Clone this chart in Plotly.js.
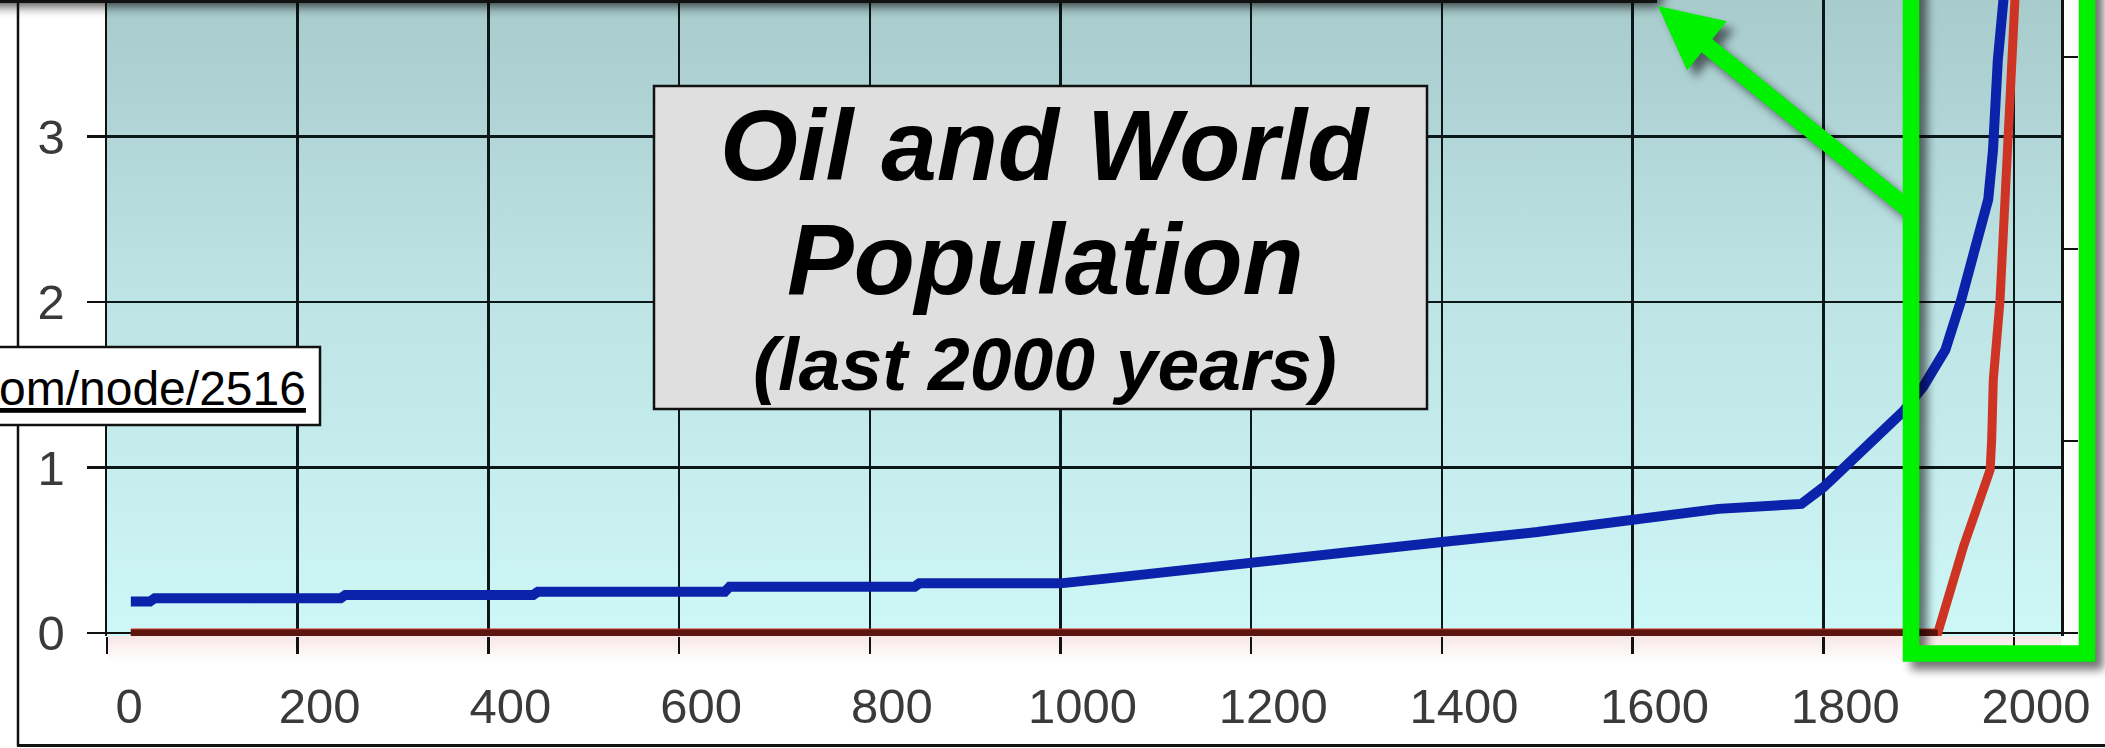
<!DOCTYPE html>
<html>
<head>
<meta charset="utf-8">
<script src="https://cdn.plot.ly/plotly-3.0.1.min.js"></script>
<style>
html,body{margin:0;padding:0;background:#ffffff;overflow:hidden}
#chart{width:2105px;height:748px}
</style>
</head>
<body>
<div id="chart"></div>
<script>
// ---------------- data ----------------
const xTickVals = [0, 200, 400, 600, 800, 1000, 1200, 1400, 1600, 1800, 2000];
const xTickText = ['0', '200', '400', '600', '800', '1000', '1200', '1400', '1600', '1800', '2000'];
const yTickVals = [0, 1, 2, 3];
const yTickText = ['0', '1', '2', '3'];
const oilAxisTicks = [0, 10, 20, 30];

// world population (billions)
const popYears = [25, 45, 50, 245, 250, 447, 452, 648, 653, 847, 852, 1000, 1050, 1125, 1200, 1275, 1350, 1400, 1500, 1600, 1690, 1777, 1800, 1822, 1884, 1905, 1928, 1944, 1964, 1973, 1978, 1980, 1983, 1989, 1995];
const popBillions = [0.19, 0.19, 0.21, 0.21, 0.23, 0.23, 0.25, 0.25, 0.28, 0.28, 0.30, 0.30, 0.33, 0.38, 0.43, 0.48, 0.53, 0.55, 0.61, 0.68, 0.75, 0.78, 0.88, 1.00, 1.34, 1.49, 1.71, 2.00, 2.42, 2.62, 2.92, 3.18, 3.46, 3.83, 4.20];

// oil (right-hand axis units)
const oilYears = [25, 1920, 1947, 1969, 1975, 1976.6, 1978.3, 1985.3, 1990.6, 1997.6, 2001, 2004];
const oilValues = [0, 0, 4.5, 7.6, 8.5, 10.1, 13.2, 17.3, 22.6, 27.8, 33.0, 36.0];

const titleLines = ['Oil and World', 'Population', '(last 2000 years)'];
const sourceText = 'om/node/2516';

// ---------------- geometry / style ----------------
const PAGE_W = 2105, PAGE_H = 748;
const L = 107, R = 2061, T = 0, B = 636;
const Y0_PX = 633;
const PX_PER_POP = 165.5;
const PX_PER_YEAR = 0.9535;
const PX_PER_OIL = 19.2;
const px2x = px => (px - L) / (R - L);
const px2y = py => (B - py) / (B - T);

const tip = [1658, 6], tail = [1912, 212];
const GREEN = '#00f200';
const tickFont = {family: 'Liberation Sans, Arial, sans-serif', size: 49, color: '#3a3a3a'};

// ---------------- decorative images (gradient background, shadows) ----------------
function svgURI(s) { return 'data:image/svg+xml;charset=utf-8,' + encodeURIComponent(s); }

const bgSVG =
  "<svg xmlns='http://www.w3.org/2000/svg' width='" + PAGE_W + "' height='" + PAGE_H + "' viewBox='0 0 " + PAGE_W + " " + PAGE_H + "' preserveAspectRatio='none'>" +
  "<defs><linearGradient id='g' x1='0' y1='0' x2='0' y2='1'>" +
  "<stop offset='0' stop-color='#a8cbcc'/><stop offset='0.45' stop-color='#bde3e4'/><stop offset='1' stop-color='#cef7f7'/></linearGradient>" +
  "<linearGradient id='p' x1='0' y1='0' x2='0' y2='1'><stop offset='0' stop-color='#f8e6e6'/><stop offset='1' stop-color='#ffffff'/></linearGradient></defs>" +
  "<rect x='0' y='0' width='" + PAGE_W + "' height='" + PAGE_H + "' fill='#ffffff'/>" +
  "<rect x='" + L + "' y='" + T + "' width='" + (R - L) + "' height='" + (B - T) + "' fill='url(#g)'/>" +
  "<rect x='" + L + "' y='" + B + "' width='" + (R - L) + "' height='26' fill='url(#p)'/>" +
  "</svg>";

function shadowSVG() {
  const dx = tail[0] - tip[0], dy = tail[1] - tip[1];
  const len = Math.hypot(dx, dy);
  const u = [dx / len, dy / len], n = [-u[1], u[0]];
  const headLen = 63, half = 31, o = 8;
  const back = [tip[0] + u[0] * headLen, tip[1] + u[1] * headLen];
  const w1 = [back[0] + n[0] * half + o, back[1] + n[1] * half + o];
  const w2 = [back[0] - n[0] * half + o, back[1] - n[1] * half + o];
  const t = [tip[0] + o, tip[1] + o];
  return "<svg xmlns='http://www.w3.org/2000/svg' width='" + PAGE_W + "' height='" + PAGE_H + "' viewBox='0 0 " + PAGE_W + " " + PAGE_H + "' preserveAspectRatio='none'>" +
    "<defs><filter id='s' x='-50%' y='-50%' width='200%' height='200%'><feGaussianBlur stdDeviation='5'/></filter>" +
    "<filter id='t' x='-20%' y='-300%' width='140%' height='700%'><feGaussianBlur stdDeviation='6'/></filter></defs>" +
    "<rect x='-40' y='-40' width='1702' height='46' fill='#000' opacity='0.75' filter='url(#t)'/>" +
    "<rect x='0' y='0' width='1657' height='3' fill='#111'/>" +
    "<g opacity='0.55' filter='url(#s)'>" +
    "<rect x='1919' y='-40' width='176' height='701.5' fill='none' stroke='#000' stroke-width='16.5'/>" +
    "<line x1='" + (back[0] + o) + "' y1='" + (back[1] + o) + "' x2='" + (tail[0] + o) + "' y2='" + (tail[1] + o) + "' stroke='#000' stroke-width='17'/>" +
    "<polygon points='" + t.join(',') + " " + w1.join(',') + " " + w2.join(',') + "' fill='#000'/>" +
    "</g></svg>";
}

const fullImg = (src, layer) => ({
  source: svgURI(src), xref: 'paper', yref: 'paper',
  x: px2x(0), y: px2y(0), sizex: PAGE_W / (R - L), sizey: PAGE_H / (B - T),
  xanchor: 'left', yanchor: 'top', sizing: 'stretch', layer: layer
});

// ---------------- traces ----------------
const firstOil = oilValues.findIndex(v => v > 0);
const traces = [
  {x: popYears, y: popBillions, type: 'scatter', mode: 'lines', yaxis: 'y',
   line: {color: '#0b22ab', width: 10}, hoverinfo: 'skip', showlegend: false},
  {x: oilYears, y: oilValues, type: 'scatter', mode: 'lines', yaxis: 'y2',
   line: {color: '#cd3423', width: 9}, hoverinfo: 'skip', showlegend: false},
  {x: oilYears.slice(0, firstOil), y: oilValues.slice(0, firstOil), type: 'scatter', mode: 'lines', yaxis: 'y2',
   line: {color: '#5c150f', width: 7}, hoverinfo: 'skip', showlegend: false}
];

// ---------------- title lines (baseline-placed, boxes kept apart) ----------------
const titleFont = {family: 'Liberation Sans, Arial, sans-serif', color: '#000', weight: 'bold', style: 'italic'};
const titleSizes = [100, 100, 75];
const titleBaselines = [180, 294, 390];
const titleAnns = titleLines.map((txt, i) => ({
  text: txt, xref: 'paper', yref: 'paper',
  x: px2x(1045), y: px2y(titleBaselines[i] - 0.3465 * titleSizes[i]),
  xanchor: 'center', yanchor: 'middle', showarrow: false,
  font: Object.assign({size: titleSizes[i]}, titleFont)
}));

// ---------------- layout ----------------
const layout = {
  width: PAGE_W, height: PAGE_H, autosize: false,
  margin: {l: L, r: PAGE_W - R, t: T, b: PAGE_H - B, pad: 0},
  paper_bgcolor: '#ffffff', plot_bgcolor: 'rgba(0,0,0,0)',
  showlegend: false,
  xaxis: {
    range: [0, (R - L) / PX_PER_YEAR], tickmode: 'array', tickvals: xTickVals, ticktext: xTickText,
    showgrid: true, gridcolor: '#0c1818', gridwidth: 2.5, zeroline: false, showline: false,
    ticks: 'outside', ticklen: 17, tickwidth: 2.5, tickcolor: '#111',
    tickfont: tickFont, ticklabelshift: 22, ticklabelstandoff: 10, fixedrange: true
  },
  yaxis: {
    range: [-(B - Y0_PX) / PX_PER_POP, (Y0_PX - T) / PX_PER_POP], tickmode: 'array', tickvals: yTickVals, ticktext: yTickText,
    showgrid: true, gridcolor: '#0c1818', gridwidth: 2.5,
    zeroline: true, zerolinecolor: '#111', zerolinewidth: 2.5,
    showline: true, linecolor: '#111', linewidth: 2.5,
    ticks: 'outside', ticklen: 18, tickwidth: 2.5, tickcolor: '#111',
    tickfont: tickFont, ticklabelstandoff: 12, fixedrange: true
  },
  yaxis2: {
    overlaying: 'y', side: 'right', anchor: 'x',
    range: [-(B - Y0_PX) / PX_PER_OIL, (Y0_PX - T) / PX_PER_OIL], tickmode: 'array', tickvals: oilAxisTicks,
    showgrid: false, zeroline: false, showline: true, linecolor: '#111', linewidth: 2.5,
    ticks: 'outside', ticklen: 14, tickwidth: 2.5, tickcolor: '#111', showticklabels: false, fixedrange: true
  },
  yaxis3: {
    overlaying: 'y', side: 'right', anchor: 'x',
    range: [-(B - Y0_PX) / PX_PER_OIL, (Y0_PX - T) / PX_PER_OIL], tickmode: 'array', tickvals: oilAxisTicks,
    showgrid: false, zeroline: false, showline: false,
    ticks: 'inside', ticklen: 20, tickwidth: 2.5, tickcolor: '#111', showticklabels: false, fixedrange: true
  },
  images: [fullImg(bgSVG, 'below'), fullImg(shadowSVG(), 'above')],
  shapes: [
    // outer frame of the screenshot
    {type: 'line', xref: 'paper', yref: 'paper', x0: px2x(18), x1: px2x(18), y0: px2y(0), y1: px2y(746), line: {color: '#111', width: 2.5}},
    {type: 'line', xref: 'paper', yref: 'paper', x0: px2x(17), x1: px2x(PAGE_W + 5), y0: px2y(745.5), y1: px2y(745.5), line: {color: '#111', width: 3}},
    // title box
    {type: 'rect', xref: 'paper', yref: 'paper', x0: px2x(654), x1: px2x(1427), y0: px2y(86), y1: px2y(409),
     fillcolor: '#dfdfdf', line: {color: '#111', width: 2.5}, layer: 'above'},
    // source box
    {type: 'rect', xref: 'paper', yref: 'paper', x0: px2x(-10), x1: px2x(320), y0: px2y(347), y1: px2y(425),
     fillcolor: '#ffffff', line: {color: '#111', width: 2.5}, layer: 'above'},
    // green highlight frame
    {type: 'rect', xref: 'paper', yref: 'paper', x0: px2x(1911), x1: px2x(2087), y0: px2y(-30), y1: px2y(653.5),
     fillcolor: 'rgba(0,0,0,0)', line: {color: GREEN, width: 16.5}, layer: 'above'}
  ],
  annotations: titleAnns.concat([
    {text: sourceText, xref: 'paper', yref: 'paper', x: px2x(308), y: px2y(388), xanchor: 'right', yanchor: 'middle',
     showarrow: false, font: {family: 'Liberation Sans, Arial, sans-serif', size: 48, color: '#000', lineposition: 'under'}},
    {text: '', xref: 'paper', yref: 'paper', x: px2x(tip[0]), y: px2y(tip[1]),
     ax: tail[0] - tip[0], ay: tail[1] - tip[1], showarrow: true, arrowhead: 2,
     arrowwidth: 17, arrowsize: 63 / (5 * 17), arrowcolor: GREEN, standoff: 0}
  ])
};

Plotly.newPlot('chart', traces, layout, {displayModeBar: false, staticPlot: true, responsive: false});
</script>
</body>
</html>
